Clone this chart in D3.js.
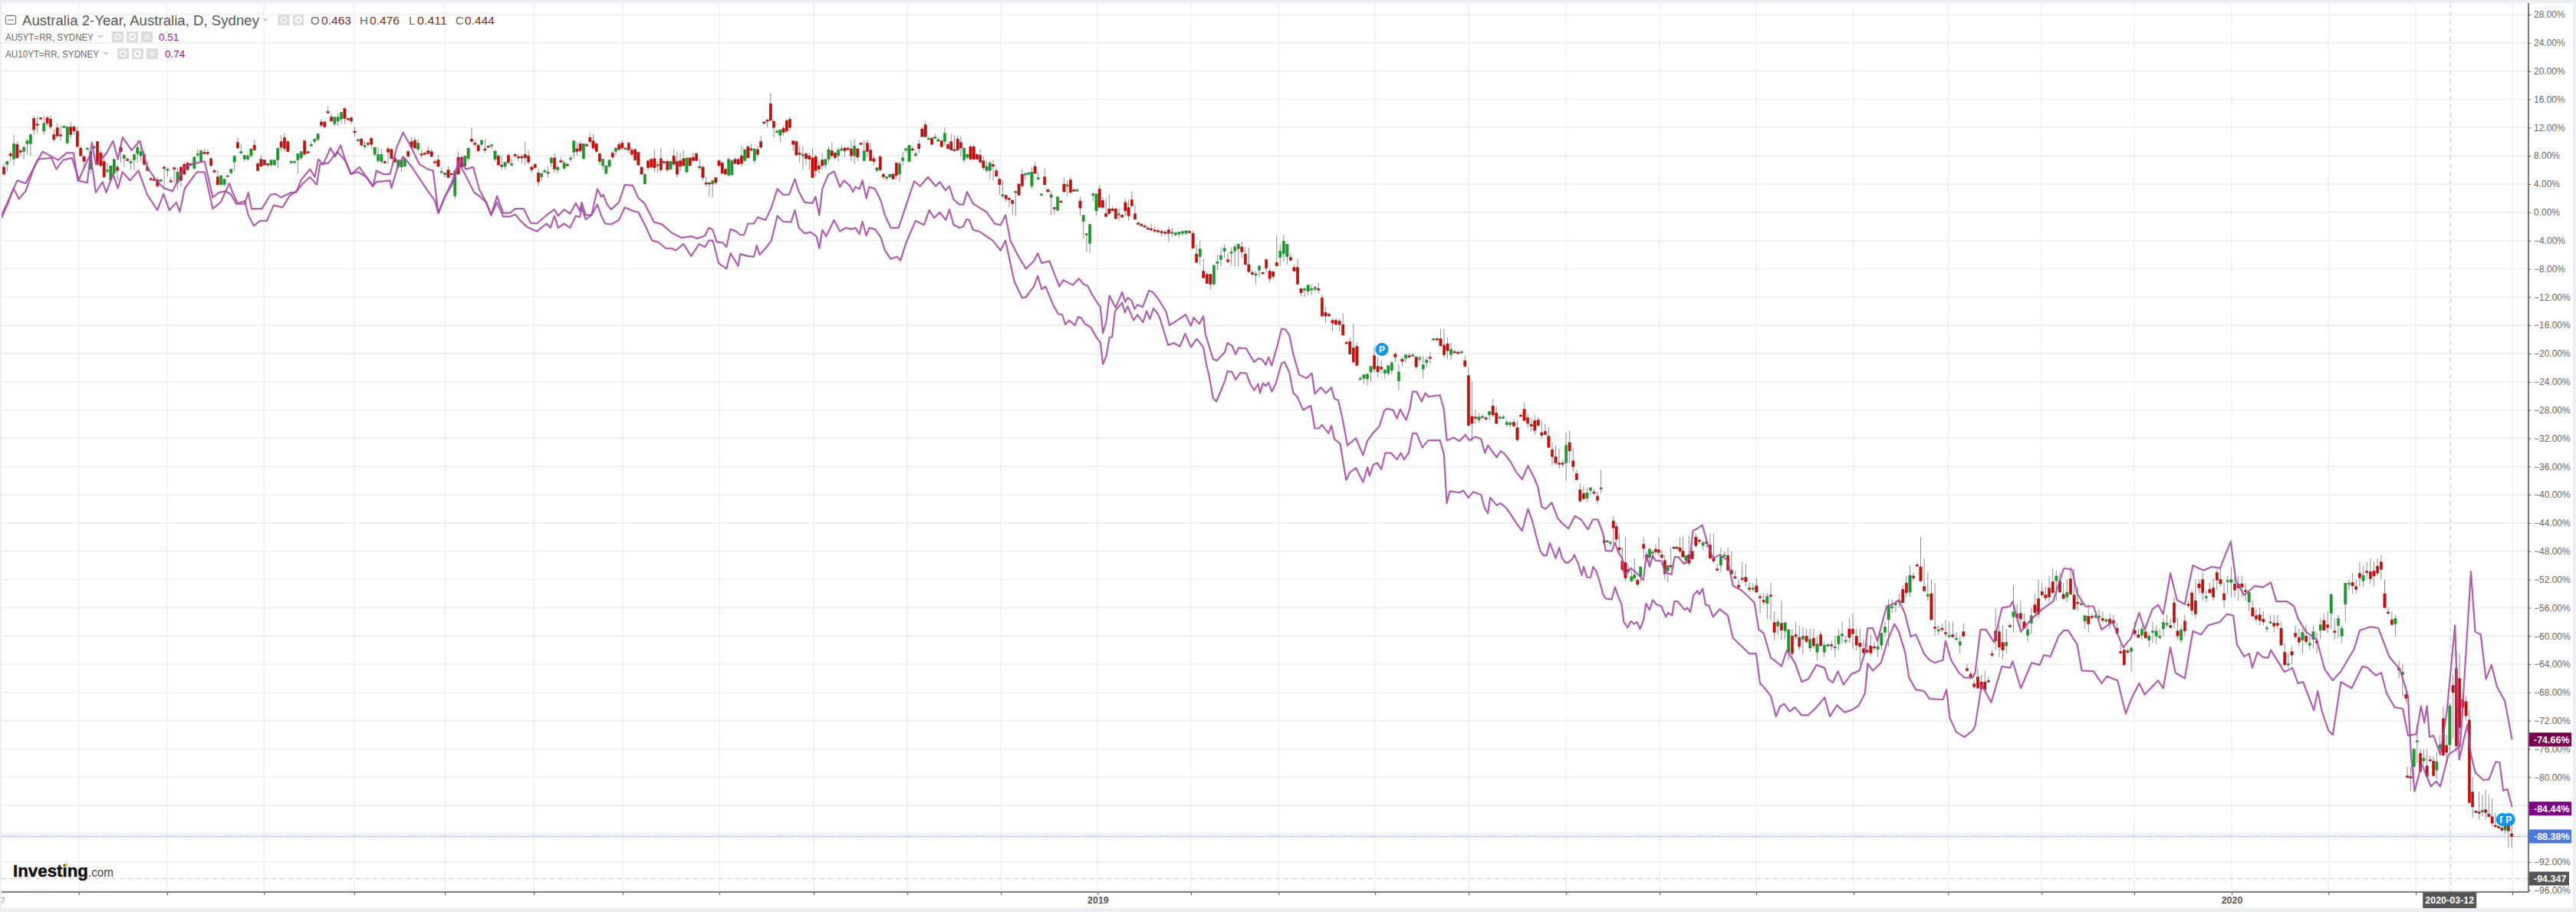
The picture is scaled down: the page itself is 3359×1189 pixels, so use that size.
<!DOCTYPE html>
<html><head><meta charset="utf-8">
<script src="https://cdn.jsdelivr.net/npm/d3@7"></script>
<style>html,body{margin:0;padding:0;background:#eceef2;overflow:hidden}svg{display:block}text{font-family:"Liberation Sans",Arial,sans-serif}</style>
</head><body><div id="chart"></div>
<script>
// Session numbers are daily bars counted from the left of the chart. Candles are [open, high, low, close] in %.
const yTicks=[28,24,20,16,12,8,4,0,-4,-8,-12,-16,-20,-24,-28,-32,-36,-40,-44,-48,-52,-56,-60,-64,-68,-72,-76,-80,-84,-88,-92,-96];
const timeTicks=[23,50.1,79.8,107.5,135.3,162.6,189.9,219.5,248.5,277.2,305.9,335.6,364.2,391.1,420.7,449.4,479.3,508,537.6,567.5,596.5,625.2,653.6,683.5,713.2,740,769.6];
const yearLabels=[[335.6,"2019"],[683.5,"2020"]];
const segmentStarts=[0,164,352,491,518,737.4];
const segmentEnds=[163,351,490,517,737,769.4];
const candles2018a=[
[6.4,6.9,5.2,5.4],[6.8,7.3,5.8,7.2],[8.3,8.6,7.2,8],[7.5,11,6.6,9.7],[9.6,10,7.6,7.7],[8.7,9,8,8.6],[8.6,9.5,7.5,9.2],[9.7,10.4,8.2,10.1],[9.7,11.2,8,11],[13.3,13.7,11,11.7],
[12.5,13.6,11.2,12.4],[13.4,13.5,13.3,13.3],[11.5,13.7,11,12.6],[13.4,13.7,12.2,12.6],[13.2,13.7,11.7,12.1],[11,11.8,10,10.3],[12,12.6,10.5,10.8],[11,12.3,10.1,10.9],[12.1,12.3,11.9,12.2],[9.8,12.2,9.6,12.1],
[12.1,12.8,10.5,11],[12.1,12.3,11,11.5],[11.5,12.1,9.2,9.3],[9.1,9.4,7.9,8],[7.9,8,6.2,7.2],[9.1,9.2,9,9.1],[6.1,8.7,5.5,8.6],[9.1,9.6,9,9.3],[10,10.1,6.5,6.8],[8.4,8.8,6.4,6.6],
[7.2,8,4.9,5],[6,7,5.5,6],[4.6,6.4,4.4,6.6],[5.5,7.6,4.6,7.5],[6.4,6.7,4.5,5.9],[9.2,9.5,7,8.6],[7.6,8.3,6.5,8.1],[7.5,7.8,7.3,7.4],[7,7.5,6,7.2],[7.4,8.3,6,8.2],
[8.3,10.2,7,9.2],[8,9.8,7.2,8.6],[8.2,8.7,6.5,6.8],[6.4,7.2,5.9,5.9],[4.8,5,4.6,4.7],[4.7,5,4.4,4.6],[4.6,5,3.5,3.7],[4.5,4.7,4.3,4.6],[6.4,6.6,3.2,6.3],[6.1,6.3,5,6.1],
[4.5,5,4.3,4.4],[6.3,6.5,4.2,6.2],[4.2,6.3,3.2,5.7],[6.4,6.5,3.6,4.5],[6.8,7.1,5.3,5.4],[7,7.2,6,6],[6.9,7,6.6,6.8],[6.2,8,6,7.8],[8.2,8.9,7.7,8.3],[7.2,8.9,7,8.7],
[8.5,9,8.2,8.3],[8.5,8.9,8,8.4],[7.6,7.7,6.4,6.6],[5.9,6.1,5.7,5.8],[5,6,3.9,3.9],[3.9,5.2,3.8,5.2],[3.9,4.8,3.7,4.7],[5.2,5.3,5,5.2],[5.6,6.1,5.4,6.1],[7.1,8,5.9,8],
[9.9,10.6,9,9.1],[8.5,9.6,8.2,8.6],[7.5,8,7.2,8.1],[7.5,8.4,7.3,8],[8,8.5,7.7,9],[9.5,10.3,9.3,8.8],[6.9,7.2,5.9,5.9],[7.5,8.1,6.9,6.5],[7.4,7.5,6.7,6.7],[6.9,7,6.4,6.8],
[6.7,7.5,6.5,7.4],[6.7,7.4,6.6,7.4],[7.4,9,6.2,9.1],[10,10.9,8.7,9.2],[10.6,11.2,8.6,9],[10,10.2,8.5,8.6],[7.2,7.4,7.1,7.2],[7.2,7.4,7.1,7.2],[7.4,8,5.5,8.3],[7.7,8.6,7.4,8.6],
[10.1,10.3,8.5,8.2],[8.6,8.7,8.3,8.5],[9.6,10,9.3,9.6],[10,10.1,9.7,10.4],[10.3,11.2,10,11.1],[12.8,13.2,12,12.3],[12.8,12.9,11.9,12.1],[14.3,15,13.9,14.1],[13.5,14,12.9,12.9],[12.5,13.4,12.2,13.5],
[12.9,14,12.2,13.5],[13.2,13.8,12.5,14.2],[14.7,14.9,12.5,13.3],[13.3,13.4,13.1,13.2],[13.4,13.6,12.5,12.9],[11.5,12.1,10.7,11.4],[10.3,10.5,10.2,10.3],[10.4,10.6,9.4,9.5],[9.5,10,8.9,9.5],[9.8,10,9.3,9.7],
[10.5,10.6,9,9.6],[8.2,9.2,7.9,9.2],[7.3,9.2,7,8.2],[7.2,9,6.9,8.2],[7.2,7.4,6.9,7.1],[9,9.4,6.8,8.5],[8.9,9.1,7.6,7.6],[7.7,8.2,7,7.1],[6.4,7.5,6.1,7.4],[6.4,7.8,5.8,7.4],
[6.5,7.8,6.4,7.6],[8.6,8.8,7.8,7.9],[10,10.6,9,9.2],[10.2,10.6,8.9,9.1],[8.9,10.3,8.6,9.8],[8.3,8.9,7.7,8.2],[8.4,8.6,8.1,8.3],[8.7,9.3,8.4,8.3],[8.6,9,7.8,7.9],[7.2,7.4,7.1,7.1],
[7.4,8.1,6.4,6.5],[5.8,6.4,5.6,5.8],[5.3,5.4,4.9,5.6],[6,6.5,5,4.9],[5.5,5.6,5.4,5.4],[2.3,5.5,1.9,5.9],[7.8,8.6,5.5,5.4],[7.8,8,7,6.4],[6.5,7.9,6.4,8],[7.6,8.5,7.2,9.1],
[10.4,12,10.2,10],[9.8,10.2,9.3,9.6],[9.5,9.7,8.5,8.7],[9.6,10,9.4,10.2],[9,10.4,8.4,8.9],[9.4,9.5,9.2,9.3],[9.4,9.6,9,9.6],[7.5,7.9,7.2,8.7],[8,8.2,6.6,6.7],[6.7,8,6,6.5],
[6.5,7,6.1,7.1],[8.1,8.3,7,7],[6.7,7.6,6.5,6.9],[8.2,8.4,7.8,8.1],[7.9,8.2,7.2,7.8],[7.9,8.2,6.9,7.8],[8.2,10,6.7,7.7],[8,8.8,6.8,7.1],[6.4,6.7,5.6,6],[6.8,7,6.3,6.3]
];
const candles2018b=[
[5.6,6.2,3.7,4.3],[5,5.7,4.4,5.5],[5.9,6.1,5.8,5.9],[5.6,6.5,4.9,5.7],[7,7.9,6.4,7.7],[7.7,8.3,5.6,6.1],[6,6.5,5.5,6.4],[7.3,7.8,7,7.2],[6.2,7.4,6,7],[6.8,7,6.5,6.7],
[7.5,8,7.1,7.7],[8.5,10.2,7.6,10.1],[9,9.9,8,8.6],[9.7,10.1,8.4,8.7],[7.6,9.8,7.4,9.7],[9.6,9.9,9.4,9.5],[10.6,11.3,9.7,10],[10.1,11.1,8.8,9.1],[9.7,9.9,8.4,8.6],[8.3,8.5,6.7,7.2],
[6.6,7.6,6,7.5],[5.5,6.6,5.4,6.6],[6.5,7.5,6.3,7.4],[8.4,8.7,7.5,7.8],[8.6,9.2,8.1,9.1],[9.6,10,8.7,8.9],[9.8,10.2,8.8,9.1],[9.1,9.2,9,9.1],[9.8,10,8.3,8.8],[8.8,9.2,8,8.2],
[8.9,9,7.2,7.4],[8.5,8.6,6.5,6.7],[6.4,6.4,5.3,5.4],[4,5.4,4,5.4],[7.3,7.4,5.9,6.3],[7.5,7.7,6.1,6.4],[7.6,8.9,5.7,6.3],[6.8,7.2,5.6,6.8],[7.6,9.1,5.6,6],[7.2,7.3,7.1,7.1],
[7.2,7.5,5.7,6],[6.1,7.3,6,7.2],[8,9,6.6,6.8],[7.2,8.6,4.9,5.4],[7.3,8.4,5.8,6.5],[7.6,8.8,6.5,6.6],[5.7,7.7,5.6,7.7],[7.7,7.8,6.5,6.6],[7.8,8.4,7.2,7.3],[8.3,8.5,7.2,7.3],
[6.5,7.6,6,6.5],[6.4,6.6,4.5,4.9],[4.2,5,3.6,4.1],[4.2,4.3,2.2,4.1],[4,4.6,2.2,4.5],[4.9,5,3.9,4.2],[7.3,7.5,6.4,6.6],[7,7.2,5.5,5.5],[6.1,6.3,5.2,5.4],[5.2,7.8,5.2,7.5],
[5.3,7.5,5.2,7.3],[7.5,7.8,6.9,6.9],[7.5,7.7,6.7,6.8],[8,9.4,6.5,6.9],[7.3,8.9,7.2,8.9],[9.3,9.5,7.7,7.7],[9,9.7,8.6,8.9],[7.3,9,6.9,9],[8.9,9.4,7.9,8.2],[10,10.8,9,9.2],
[12.8,12.9,12.6,12.7],[13.1,13.2,12,12.9],[15.4,16.9,13.1,13],[12.9,13,10.6,12],[11.5,11.7,11.2,11.5],[10.9,11.1,10,11.7],[11.9,12.2,10.8,11.3],[13,13.2,11.2,11.5],[13.2,13.6,11.5,12],[10.1,10.2,8.7,9.6],
[10,10.2,8.2,8.1],[8.4,9.4,7,8.2],[8,9.3,6,8.2],[8.3,8.6,6.7,7.6],[8,8.5,6,7.5],[7.7,9,5.3,4.9],[7.9,8.2,5,5.9],[6.6,7.3,5.5,6.1],[7.4,8.4,6,6.6],[6.7,7.2,6.2,7.5],
[7.5,9.3,7,8.9],[8.7,9.9,7.8,8],[8.4,8.5,7.5,7.7],[8,9.2,7.2,8.8],[9,9.6,8.6,9],[9.1,9.3,7.8,8.7],[9.1,9.3,8.8,9],[9,10.2,7.2,8],[8,10.4,6.8,9.4],[9,9.1,7.3,7.8],
[9.8,9.9,9.6,9.7],[7.3,10.2,7.2,8.7],[9.8,10.3,7.8,8.6],[8.8,9.8,7.2,7.3],[7.6,8,6.6,7.2],[5.9,6.2,5.6,6.3],[7.9,8,5.7,6],[5.4,5.6,4.7,5],[4.9,5.2,4.5,5],[5,5.1,4.8,5.4],
[5.4,5.6,4.7,4.7],[7,7.1,4.6,5.2],[5.4,7.2,4.3,6.9],[7.3,8.6,6.7,7.7],[8.9,9.2,8.4,9],[7.2,9.5,7,9.5],[9,9.3,8.6,8.8],[8,8.7,7.9,8.3],[9.7,10.3,8.4,9],[11.8,12.1,10.7,10.7],
[12.4,12.9,10.6,10.7],[10.5,10.8,10.4,10.5],[10.5,10.7,9.5,9.6],[10.6,11.1,10.4,10.7],[10.2,10.6,9.9,10.3],[10.1,10.4,9.2,9.3],[10,12,9.4,11.2],[9.6,9.9,9,9],[10,11.1,8.9,8.8],[8.9,10.9,8.7,8.7],
[10.4,10.9,8.9,8.8],[9.9,10.8,7.9,9.1],[7.4,9.1,7,9.1],[7.8,8.3,7.5,8.2],[9.3,9.6,7.4,7.5],[9.3,9.6,7.4,7.5],[8.2,8.4,7.4,7.5],[8.1,8.9,6.9,7.1],[7.3,7.9,6,6.3],[5.9,7.3,5.6,6.5],
[5.9,7.3,4.6,7],[6.8,7.4,4.5,6.5],[5.9,6.3,5.6,5.1],[4.7,5,2.5,3.9],[2.5,4.5,2,2.5],[2.4,2.5,1.5,1.9],[2,2.2,.7,1.9],[1.7,1.8,-.4,1.2],[3,3.1,-.5,3],[4,4.1,3.7,2.4],
[5.4,6.2,3.9,3.7],[5.4,5.6,4.6,5.5],[5.4,5.7,5.2,5.6],[3.7,6.4,3.3,5.7],[6.5,7.1,5.9,5.5],[4.8,5.7,4.5,4.9],[2.5,2.7,2.4,2.6],[5,6.2,3.9,3.9],[3.2,3.4,3,2.9],[2.1,3,-.4,2.5],
[.7,.9,-.3,.6],[.3,1,.1,2.2],[1.6,1.7,1.4,1.5],[4,4.9,3.9,2.9],[3.8,4.5,2.3,3.9],[4.6,5,3.6,2.8],[3.2,3.4,3,3.1],[3.2,3.4,3,3.2],[1.6,2.2,-.5,.6],[-1.3,-1.2,-3.7,-.4],
[-3.1,-3,-5.6,-3],[-4.4,-2,-5.7,-1.7],[2.6,2.8,1.6,2.6],[.2,2.7,-.5,2.6],[3.3,3.8,1.7,.7],[1.7,2.2,.4,.7],[-.2,2,-.7,-.6],[.5,2.5,-.1,-.2],[.5,.8,.3,.2],[.5,.6,-1,-.9],
[-.4,.6,-1.2,-.2],[-.4,-.3,-.6,-.7],[1.4,1.9,-.5,.2],[.7,1.8,-1.2,-.5],[1.8,2.9,.9,.9],[-.2,1.1,-.8,-1],[-1.5,-1.3,-1.8,-1.6],[-1.7,-1.5,-2,-1.8],[-1.9,-1.7,-2.1,-2],[-2.2,-2,-2.4,-2.3]
];
const candles2019a=[
[-2.3,-1.6,-2.8,-2.4],[-2.5,-2,-2.8,-2.6],[-2.6,-2.2,-3,-2.7],[-2.7,-2.4,-3.4,-2.8],[-2.8,-2.5,-3.2,-3],[-2.5,-2,-4.2,-3],[-2.8,-2.2,-3.5,-2.8],[-3.2,-2.8,-3.4,-2.9],[-3.1,-2.8,-3.5,-2.8],[-3,-2.6,-3.3,-2.7],
[-3,-2.7,-3.2,-2.6],[-2.7,-2.5,-3,-2.9],[-3,-2.6,-5.1,-5.1],[-5.9,-4.6,-6.3,-7.1],[-6.3,-4,-7.5,-5.2],[-8.3,-6.6,-9.1,-9.3],[-8.8,-8.4,-9.8,-10.1],[-8.8,-8.7,-10.9,-10.2],[-10.2,-7.5,-10.4,-7.5],[-7.1,-6,-8.2,-7],
[-6.7,-5,-7.7,-6.1],[-5.5,-4.5,-6.5,-5.1],[-6.7,-5.8,-7.2,-7],[-5.7,-5,-7.5,-5.6],[-5.5,-4.5,-7.7,-4.9],[-5.2,-4.5,-7.7,-4.5],[-4.9,-4.2,-6.5,-5.6],[-5.9,-4.9,-7.5,-7.4],[-7.4,-5,-8.6,-8.4],[-8.5,-8.2,-9,-8.8],
[-8.9,-8.3,-10.2,-8.7],[-8.2,-7.8,-9.2,-7.6],[-8.5,-8.6,-8.7,-8.7],[-6.7,-6.5,-8.5,-7.9],[-8.3,-8,-10,-9.4],[-8.4,-8.3,-9.5,-9.1],[-7.1,-3.3,-7.7,-7.6],[-6.4,-4.5,-7.6,-5.5],[-5.9,-3.2,-7,-4.1],[-6.3,-5,-7.4,-4.5],
[-6.4,-5.8,-6.9,-6.8],[-7.8,-7.4,-8.5,-8.3],[-7.8,-6.6,-10,-10.2],[-10.8,-10.7,-11.9,-11.4],[-11,-10.6,-12,-10.8],[-11.2,-10.9,-11.7,-10.3],[-11,-10.2,-11.7,-10.8],[-10.9,-10.4,-11.2,-10.6],[-10.8,-10,-11.5,-11],[-12.1,-11.7,-14.6,-14.7],
[-14.2,-13.4,-15.7,-14.7],[-14.4,-14.2,-14.6,-14.7],[-15.3,-15,-16.8,-15.7],[-15.3,-15,-15.7,-15.9],[-15.4,-15,-16.8,-15.9],[-15.9,-14.3,-17.2,-17.4],[-18.4,-18.2,-18.6,-18.5],[-18.3,-17.7,-19.2,-20.1],[-19.2,-15.8,-21.5,-21.2],[-19,-18.5,-19.5,-21.7],
[-23.5,-23.2,-23.7,-23.5],[-23.5,-23,-24.3,-23],[-23.6,-23,-24.5,-22.9],[-22.6,-22,-24,-21.8],[-20.3,-19,-22.7,-22.2],[-21.8,-20.5,-23.4,-22.6],[-21.9,-21,-22.8,-22.2],[-22.8,-22.2,-23.6,-22.3],[-22.8,-21.8,-23.2,-21.7],[-22.4,-21,-23,-21.3],
[-20.1,-19.8,-21.2,-20.5],[-23.9,-21.5,-25.2,-22.6],[-20.8,-20.4,-21.8,-21.1],[-20.7,-20,-21.3,-20.2],[-20.3,-20,-20.7,-20.4],[-20.2,-19.9,-20.4,-20.2],[-20.5,-20.3,-22.2,-21.9],[-20.8,-20.3,-21.2,-20.6],[-22.2,-20.3,-23.5,-21.6],[-21.3,-20.5,-22,-20.9],
[-20.5,-19.8,-21.4,-20.6],[-17.9,-17.8,-18,-17.9],[-17.9,-17.7,-18.1,-18],[-17.9,-16.5,-19.1,-18.9],[-18.8,-16.5,-20.6,-20.2],[-18.6,-17.7,-20.8,-19.6],[-20.2,-18.5,-20.9,-19.4],[-19.7,-19.5,-19.9,-19.8],[-19.8,-19.6,-20,-19.9],[-19.8,-19.6,-20,-19.7],
[-21,-20.3,-22,-21.8],[-23.1,-21.9,-24.6,-30.2],[-28.9,-24,-32.5,-29.9],[-29,-28,-29.9,-29.1],[-29.4,-28.4,-29.8,-29],[-29,-28.6,-29.2,-28.9],[-29.1,-28.8,-29.5,-29.2],[-28.7,-28.2,-29.5,-28.2],[-27.4,-26.4,-29,-28.7],[-28.4,-27.5,-30,-29.9],
[-29,-28.8,-29.2,-29],[-29,-28.7,-29.2,-29],[-30.1,-29.3,-30.4,-29.7],[-30.1,-29.5,-30.5,-29.8],[-29.7,-29.3,-30.5,-30.3],[-30.5,-29.5,-32.5,-32.2],[-28.7,-28.5,-29,-28.8],[-27.9,-26.9,-29,-29.5],[-29.1,-28.5,-30.5,-29.9],[-30,-29.2,-31,-30.3],
[-29.5,-28.7,-31.5,-30.9],[-29.4,-29,-30.2,-30.2],[-31.2,-29.5,-32,-31.6],[-31,-30,-31.2,-31.5],[-31.7,-30.4,-32,-33.3],[-33.6,-32.5,-35.8,-34.6],[-34.6,-33,-35.8,-35.5],[-35.5,-33.5,-36.3,-35.6],[-35.5,-35,-36.2,-35.7],[-35.5,-31.2,-38,-33],
[-32.6,-30.9,-35.5,-33.8],[-35.2,-33.4,-36.8,-36],[-37,-36.5,-37.9,-37.9],[-39.3,-38.4,-39.7,-40.9],[-39.8,-38.8,-40.5,-40.6],[-40.5,-39,-41,-39.7],[-39.4,-38.9,-40,-39],[-39.6,-39.2,-40,-39.8],[-40.2,-39.6,-41.3,-40.8],[-39,-36.5,-39.8,-39]
];
const candles2019b=[
[-46.5,-45.8,-47,-46.8],[-46.5,-46.4,-46.7,-46.5],[-46.9,-46.6,-47.3,-46.7],[-43.7,-43,-47,-44.7],[-44.5,-44,-46.8,-46.3],[-47.5,-45.5,-48.4,-47.8],[-49.4,-47.5,-50.8,-50.6],[-49.6,-46,-52.2,-51.8],[-50.6,-50,-51.2,-50.7],[-52.2,-50.8,-52.4,-51.6],
[-51.8,-49,-52,-51.3],[-52.1,-51.8,-53,-52.7],[-51.6,-50.9,-52.4,-50.2],[-47,-46,-49,-47.6],[-48.5,-48,-49.5,-49],[-48.9,-47.5,-50,-47.7],[-48.3,-47.8,-49.2,-48.1],[-47.7,-47,-48.5,-48.1],[-47.8,-46,-48.7,-48.2],[-48.5,-47.8,-49,-48.9],
[-49.3,-48.5,-52,-51.2],[-50.8,-50,-52.4,-50],[-50,-47.5,-50.5,-50.1],[-47.4,-47.2,-47.6,-47.5],[-47.4,-47.2,-47.6,-47.5],[-47.5,-46,-48.3,-48],[-48,-46,-49,-48.8],[-49.3,-48.8,-49.8,-48.6],[-48.5,-45.8,-50,-49.7]
];
const candles2019c=[
[-48,-47.4,-49.2,-49.1],[-46,-45.5,-47.5,-47.2],[-46.4,-46.2,-46.9,-46.6],[-47.2,-46.5,-47.8,-46.8],[-46.7,-46.5,-47.5,-46.9],[-47.1,-45.5,-49.1,-49],[-49,-45.5,-49.7,-49.4],[-50.5,-49.8,-50.8,-50.7],[-50,-47.5,-51,-48.7],[-48.6,-48,-49,-48.5],
[-48.6,-47.5,-50.6,-50.7],[-50.7,-48,-51.3,-51.2],[-51.6,-50.8,-52,-51.7],[-52.8,-52,-53.5,-53.1],[-51.8,-49.5,-52.3,-51.9],[-51.7,-49.8,-53,-52.3],[-53.2,-52.4,-53.8,-53.4],[-53.4,-52.5,-53.7,-53.2],[-52.9,-51.8,-53.8,-53.8],[-54.4,-54,-56.8,-54.5],
[-54.9,-54,-55.6,-55.2],[-55.4,-53.9,-57.6,-54.4],[-54.2,-52.5,-57.8,-54.3],[-58.1,-56.5,-60.6,-59.5],[-58.6,-57.6,-59.8,-58],[-58.2,-55,-60.5,-59.2],[-59.3,-58.6,-60.5,-58.1],[-62.3,-60.4,-63.5,-59.1],[-60,-59,-63,-62.5],[-59.8,-58,-60.5,-60.1],
[-60.2,-58.5,-62,-61.5],[-60.5,-58.8,-62.5,-60],[-60,-59,-61,-60.8],[-61.7,-59,-62.2,-60.5],[-60.3,-59,-61.8,-61.4],[-62.3,-60,-63.5,-61.1],[-59.8,-59.3,-61.5,-61.4],[-62.3,-60.8,-63,-61.3],[-61.3,-61,-61.6,-61.2],[-61.2,-60.7,-62,-61.3],
[-61.6,-60,-63,-61.5],[-61.1,-59,-62,-60],[-60,-58,-61,-59.7],[-60.7,-60,-61.2,-60.6],[-59,-57.5,-61,-60.2],[-59,-56.8,-61.8,-59.7],[-60,-59,-62,-61.3],[-61,-59,-64,-61.5],[-61.8,-60.5,-62.5,-62.4],[-62,-61,-62.5,-62.3],
[-61.4,-59.8,-62.8,-62.4],[-61.5,-60.8,-62,-61.6],[-61.9,-60,-63,-61.5],[-61.3,-59.5,-62,-59.6],[-59.5,-58,-60.1,-58.7],[-57.7,-54.8,-61.5,-55.8],[-55.8,-54.8,-56.7,-55.8],[-55.6,-55,-56.6,-55.4],[-55.2,-54,-56,-55],[-53.4,-52.8,-55.3,-55.3],
[-52.5,-51.5,-54.5,-53.9],[-53.8,-50,-54.5,-51.4],[-51.5,-51,-52.2,-51.8],[-49.9,-49.5,-50.1,-50],[-50.2,-46,-52.4,-52.2],[-53,-49,-53.8,-53.6],[-54.4,-51,-55,-54.1],[-54,-52,-57.5,-57.7],[-58.7,-52.5,-60,-58.9],[-59.2,-58.5,-59.9,-59.1],
[-58.9,-58.2,-59.4,-59],[-59.5,-57.7,-60.2,-59.7],[-59.9,-58,-60.3,-59.9],[-59.8,-58,-60.3,-60.1],[-60.5,-59.5,-60.7,-60.3],[-61.3,-60,-62.5,-60.8],[-59.4,-58.2,-60.3,-60],[-64.6,-64,-65,-64.9],[-65.4,-65,-66.2,-65.8],[-66.8,-66.2,-67.5,-67.2],
[-65.8,-64.5,-67,-67.4],[-66.5,-65.5,-67.7,-67.5],[-66.5,-65,-67.5,-67.6],[-66.3,-65.8,-66.6,-66.5],[-62.5,-62,-63,-62.7],[-59.3,-56,-62,-60.7],[-59.4,-58.5,-63,-61.6],[-60.9,-58.5,-63.3,-62],[-61.4,-59,-62.5,-60.9],[-58.5,-58.2,-58.8,-58.6],
[-57.3,-52.8,-59.5,-56.6],[-56.9,-55.5,-58,-57.4],[-56.8,-55,-59,-57.6],[-58,-56.8,-59,-58.9],[-59.9,-58.5,-60.8,-59.1],[-58.2,-56,-59.7,-57.1],[-55.6,-54,-57,-56.7],[-54.7,-52,-57.5,-56.9],[-53.7,-52.5,-54.5,-54.2],[-54.2,-53,-55,-54.6],
[-53.2,-51.5,-55.2,-54.5],[-52.3,-50.5,-53.2,-53.9],[-52.2,-50.8,-55,-51.5],[-52.2,-51,-53.5,-53.8],[-54.1,-52.5,-54.5,-54.7],[-54.5,-52,-55.2,-53.8],[-51.9,-50.2,-53,-54.1],[-54.2,-50.5,-54.5,-56.2],[-55.2,-53,-56.5,-55.4],[-55.4,-54.8,-55.6,-55.4],
[-57.9,-57.1,-59,-57.1],[-57.2,-55.5,-59.5,-58.3],[-57.2,-56.8,-57.6,-57.3],[-57.3,-56.5,-57.6,-57.1],[-57.3,-56.2,-58,-57.2],[-57.5,-56.5,-58.2,-57.8],[-57.9,-57.5,-58.2,-57.7],[-57.6,-56.8,-59,-58.2],[-57.8,-57,-58.5,-58.2],[-58.9,-58.2,-59.4,-59.6],
[-62.2,-61,-62.5,-62.4],[-62,-61.5,-63.5,-64.1],[-62.1,-61.8,-62.5,-62.2],[-62.2,-61.5,-65,-61.7],[-59.2,-58,-60,-59.7],[-59.8,-59,-60.3,-60.2],[-59.9,-58.6,-60.5,-59],[-59.4,-58.5,-60,-60.3],[-60.6,-59.5,-61.5,-60],[-59.3,-58,-61,-59.3],
[-60,-58.5,-61.2,-59.3],[-60.2,-59,-60.5,-60],[-59,-57.5,-60,-58.1],[-58.2,-57,-58.8,-58.2],[-58.5,-57.6,-59,-58.8],[-55.3,-54.5,-59,-58.1],[-59.3,-57.5,-60.5,-60],[-60.6,-58.5,-61,-59.1],[-57.9,-57,-60,-59.3],[-55.5,-55,-56,-55.6],
[-53.9,-53.5,-57,-56.4],[-55,-52,-57.5,-56.9],[-52.6,-52,-54,-53.2],[-52,-51,-55,-53.9],[-54.5,-53.5,-55.2,-54.4],[-53.4,-52.5,-54,-53.9],[-53.2,-51.8,-55,-54.5],[-51,-50.5,-53.5,-52.1],[-52,-50.2,-53,-52.6],[-54,-52.5,-56,-54.9],
[-52.2,-51.5,-54,-52.1],[-52.4,-50.2,-54.5,-52],[-52.6,-51.5,-54.5,-53.5],[-52.6,-51.5,-55,-53.2],[-52.6,-51.5,-54.5,-53.1],[-53.5,-52.5,-55,-53.6],[-55.2,-54.5,-56.5,-53.8],[-56,-55,-57.2,-57.2],[-57.1,-56.2,-58,-57.6],[-57,-56,-58.5,-57.8],
[-57.6,-56.5,-58.5,-58],[-59,-58.5,-59.5,-58.8],[-58,-57,-58.2,-58],[-58.2,-57,-59.5,-58.6],[-58.2,-57,-59,-58.5],[-58.9,-58,-59.5,-61.3],[-62.3,-61,-64.2,-64.1],[-64,-62.5,-64.5,-63.9],[-62.2,-61.5,-64,-62.7],[-59.6,-58.5,-60.5,-60.1],
[-60.2,-59,-61.5,-60.9],[-60.6,-59,-62.5,-59.5],[-60,-58.5,-61.2,-60.8],[-61.3,-60,-62,-61],[-60.5,-58.5,-61.8,-59.4],[-60.7,-59.5,-62.5,-61],[-59.2,-57.5,-60.5,-58.4],[-57.8,-56.8,-59,-59.2],[-58.4,-56.5,-59.6,-58.8],[-56.8,-55,-59,-54.1],
[-59.3,-57.5,-60.5,-59.4],[-58.5,-57,-60.2,-57.5],[-60,-58.5,-61,-58.9],[-55.5,-53.5,-58,-52.5],[-52.6,-52,-53.5,-52.5],[-52.4,-51,-54,-52.9],[-53,-52,-54,-53.4],[-51.1,-49.5,-53,-51.8],[-52.2,-50,-53,-51.4],[-50.8,-49.5,-52,-50.9],[-50.9,-49,-52.7,-51.9],
[-50.8,-49.5,-53,-51.5],[-50.1,-49,-51.5,-51.1],[-49.5,-48.5,-52,-50.6],[-54,-52,-55.6,-56],[-56.6,-56,-57,-56.7],[-57.7,-56.5,-58.5,-58.4],[-58.3,-57,-60,-57.5],[-64.6,-63.5,-66,-64.8],[-65.5,-64,-68.5,-65.1],[-68.3,-67,-69.5,-68.8]
];
const candles2020=[
[-79.8,-78.5,-80.2,-79.9],[-79.9,-78.5,-82,-80],[-78.5,-76,-80.5,-76],[-74.9,-72.5,-78,-74.8],[-76.6,-76,-79,-79.2],[-77.7,-76,-78.2,-77.3],[-78.4,-76,-79.6,-79.9],[-77.5,-77,-77.8,-77.6],[-77.7,-77,-79.8,-79.8],[-79,-76.5,-80.2,-77.8],
[-75.9,-74,-76.6,-75.4],[-71.7,-70,-77,-76.9],[-75.5,-74,-78,-76.5],[-75.4,-69.5,-76.5,-69.9],[-67,-65.5,-74.5,-68],[-64.6,-62,-76.5,-75.6],[-66,-62.5,-74,-73],[-69,-68,-71.5,-70.1],[-69.3,-68.5,-72,-71.3],[-71.9,-70.5,-74,-83.6],
[-82.1,-80,-85.8,-84.2],[-84.8,-84.6,-85,-84.9],[-84.9,-82,-86,-85.1],[-84.8,-82.5,-85.5,-84.7],[-84.6,-81.8,-86,-85],[-85.2,-82.5,-85.6,-85.6],[-85.6,-83,-87,-86.5],[-86.8,-85,-87.2,-87],[-87,-86.8,-87.2,-87.1],[-87.2,-85.5,-87.8,-87.5],
[-87.5,-85.5,-88,-86.3],[-86.8,-86,-90,-87.6],[-88,-86.5,-90,-88.4]
];
const candleSegments=[candles2018a,candles2018b,candles2019a,candles2019b,candles2019c,candles2020];
const au5Points=[[-.7,-.4],[1.4,1.7],[4.1,4.5],[6.7,4.1],[9.3,6.4],[11.9,8.6],[14.6,7.9],[16.7,7.4],[19.3,8.4],[21.4,8.4],[22.7,4.5],[25.6,4.2],[27,9.9],[28.2,6.8],[31.4,8.3],[33.5,10.1],[35,7.5],[36.4,10.6],[39.2,8.8],[41.7,10.1],[44,6.4],[46.6,4.6],[49.2,3.4],[51.8,3],[53.9,5],[55.5,6.4],[57.6,6.8],[60.3,7.1],[61.6,7.2],[62.9,4.6],[64.1,2.1],[66,2.8],[68.1,3],[69.2,4.1],[70.2,2.8],[71.8,1.2],[73.9,1.2],[75,2.8],[76,.5],[79.2,.5],[81.8,2.5],[83.4,2.6],[85,2.1],[88.1,2.8],[89.7,2.8],[91.2,4.6],[93.9,6.1],[95.4,5],[96.5,7.5],[98,6.8],[100.2,9.1],[101.7,7.9],[103.3,9.5],[104.9,7.2],[106.5,5.4],[109.1,6.4],[111.2,5],[113.3,3.7],[114.3,5.9],[116.4,5.4],[118.5,5.4],[120.6,9.3],[122.5,11.3],[124.9,9.3],[127.5,6.8],[130.1,6.1],[131.7,5.9],[133.3,-.1],[135.4,2.3],[137.5,4.3],[139.9,7.7],[141.7,6.1],[144,6.4],[145.9,3.2],[148,1.4],[149.5,-.4],[151.3,2.3],[153.2,-.1],[155.3,-.1],[156.9,.5],[159.5,.5],[161.6,-1.5],
[163.5,-1.6],[166.5,-.4],[168.9,.4],[170.1,-.5],[171.9,.4],[173.7,-.2],[175.5,1.3],[176.7,.2],[177.3,1.4],[178.5,-.4],[180.3,-.4],[182.1,3.3],[183.3,2.2],[183.9,2.5],[185.1,1.1],[186.3,.4],[188.7,1.4],[190.5,3.9],[192.9,3.8],[194.7,2],[196.5,1.3],[199.5,-1.4],[201.9,-1.7],[204.9,-2.9],[207.9,-3.6],[210.9,-3.4],[212.7,-3.7],[215.1,-3.3],[216.3,-2.2],[217.5,-2.5],[218.7,-4.2],[220.5,-4.3],[221.7,-4.9],[222.9,-2.4],[224.7,-2.7],[225.9,-3.2],[227.1,-3.2],[228.3,-1.6],[230.1,-1.6],[231.3,-.7],[233.7,-1.1],[235.5,.7],[237.3,3.3],[239.1,2.5],[240.9,2.5],[242.7,4.7],[243.9,2.9],[245.7,1.4],[248.1,1.3],[249,2.2],[250.2,-.4],[251.1,3.3],[252.9,5.3],[254.7,5.8],[256.5,3.6],[257.7,4.5],[259.5,3.8],[260.5,2.9],[261.3,3.6],[262.5,3.3],[263.4,4.5],[264.6,2],[265.5,3.6],[267.3,3.3],[269.1,1.6],[270.3,-.4],[272.1,-2.2],[274.5,-2.2],[276.9,1.1],[279.3,4.4],[281.1,3.7],[283.5,5],[285.9,3.7],[287.1,4.3],[288.9,3.1],[290.1,3.7],[291.4,1.8],[293.2,1.1],[294.4,1.1],[295.5,2.9],[297.4,1.2],[299.2,.7],[301.6,0],[304,-1.6],[305.8,-1.8],[307.3,-.4],[308.8,-4],[311.2,-6.2],[313.6,-8],[316,-6.9],[317.2,-5.8],[318.4,-7.2],[320.8,-6.9],[323.8,-10.5],[325,-9.6],[328,-10.3],[329.8,-9.4],[331.3,-10.2],[332.5,-10.4],[333.7,-11.5],[335.3,-12.7],[336.4,-13.4],[337.2,-17.1],[338.2,-15.5],[339.2,-11.8],[341.1,-13.5],[343.1,-11.3],[344,-12.7],[344.8,-12.1],[346,-12.5],[346.9,-13.7],[347.8,-13.1],[349.4,-13.4],[351.3,-11.1],[352.5,-11.3],
[354.2,-12.3],[356.6,-14.1],[357.6,-16],[359.6,-15.4],[362.6,-14.5],[364.2,-16.1],[365,-14.9],[366.8,-15.8],[368,-14.7],[368.6,-17.2],[371,-20.8],[372.2,-21],[374.6,-19.8],[375.4,-18.5],[376.8,-18.9],[377.9,-20.1],[378.8,-19.2],[381.2,-19.3],[382.4,-20.3],[383.6,-21.2],[384.8,-20.7],[386,-20.8],[387.2,-21.6],[388,-20.5],[389,-21.7],[390.8,-18.7],[392,-16.5],[393.2,-16.6],[394.4,-17.4],[395.6,-20.1],[397.4,-23],[399.6,-23.5],[401.3,-22.8],[402.2,-25.7],[404,-24.8],[405.6,-25.6],[407.3,-24.8],[408.2,-26.4],[409.4,-26.6],[410.6,-29],[412.2,-33],[414.8,-32],[417,-34.4],[418.4,-32.3],[420.2,-31.2],[422,-30.3],[423.5,-28.1],[424.4,-27.8],[426.2,-28],[427.4,-29.2],[428.4,-27.9],[430.2,-29.4],[431.3,-27.9],[432.2,-25.4],[433.4,-25.4],[435,-26.8],[436.1,-25.6],[437,-26.1],[440.6,-25.9],[441.8,-27.9],[442.7,-32.3],[444.8,-31.9],[446.6,-32.4],[448.4,-31.5],[449.6,-32.3],[451.4,-31.8],[453.2,-32.1],[454.4,-34.1],[455.3,-33],[458,-34.7],[459.2,-33.8],[460.4,-34.2],[462.2,-35.3],[464,-36.8],[465.8,-37.8],[467.6,-35.9],[469.4,-37.5],[470.6,-38.8],[471.8,-41.7],[473,-42],[474.9,-41.1],[476.7,-43.3],[477.8,-43.9],[480,-44.8],[482,-43],[483.9,-43.5],[486,-44.9],[487.5,-43.5],[489,-43.5],[490.6,-45.4],[491.4,-47.9],[493.3,-48],[494.3,-46.8],[495.3,-48.1],[496.5,-49],[497.1,-51.2],[498.1,-51],[499.2,-50.4],[500.2,-50.8],[501.2,-51.2],[502,-51.6],[503,-52.1],[503.9,-48.5],[504.9,-50.2],[505.9,-48.6],[506.7,-49.3],[508.6,-49.4],[509.7,-51],[511.6,-51.3],[512.6,-48.8],[513.7,-48.8],[515.5,-49.8],[517.3,-49],
[518.2,-45.1],[519.5,-44.8],[521.1,-44.3],[522.8,-47.1],[524.4,-49],[526.4,-48.5],[528.9,-49.3],[530.5,-52.9],[533,-53.5],[534.7,-54.2],[537.1,-55.3],[538.4,-59.1],[539.9,-59.6],[542.1,-63.1],[543.7,-63.6],[545.4,-64.3],[547,-62],[549.5,-63.8],[551.6,-66.5],[553.6,-66.1],[556.1,-64.1],[558.6,-64.5],[559.7,-66.1],[561.1,-66.6],[562.7,-65],[564.4,-66.9],[566.8,-65.4],[569.3,-64.9],[571,-62.3],[571.8,-58.9],[573.4,-58.9],[574.8,-60.7],[577.6,-55.8],[580,-55.4],[581.4,-54.9],[583.3,-56.9],[585,-60.1],[586.6,-59.8],[589.1,-62.5],[590.8,-63.4],[592.4,-63.8],[594.9,-63.4],[595.7,-60.7],[597.4,-63.4],[599.8,-65.2],[601.5,-65.9],[604,-65.9],[604.8,-65.2],[606.4,-59.1],[608.1,-59.1],[610.6,-60.9],[613,-56],[615.5,-55.8],[616.3,-55.1],[618.8,-59.4],[622.1,-57.6],[625.4,-56.2],[628.7,-55.1],[632,-50.4],[634.5,-50.6],[636.1,-54],[638.6,-55.8],[641.1,-55.8],[643.6,-59.1],[646.9,-58],[650.2,-61.6],[652.6,-60.3],[655.1,-56.7],[656.8,-59.1],[659.2,-56.2],[660.9,-55.6],[662.5,-56.9],[664.7,-51.1],[666.7,-54.9],[669.1,-55.5],[671.6,-50],[673.3,-50.4],[674.9,-50.7],[677.4,-50.2],[679.9,-50.4],[683.2,-46.6],[684.8,-52.2],[687.3,-54.2],[688.9,-53.6],[690.6,-52.9],[693.1,-53.1],[695.5,-52.4],[697.2,-55.1],[700.5,-55.1],[702.6,-55.8],[703.8,-57.5],[706.3,-59.4],[709.6,-60.5],[712,-64.7],[714.5,-66.3],[717,-65],[721.1,-61.8],[722.8,-59.2],[726.1,-58.7],[728.5,-58.9],[731.9,-63],[735.1,-64.7],[737.6,-68.5],[738.5,-76.8],[739.6,-82],[741.8,-78.1],[744.6,-81.3],[746.2,-80.6],[747.5,-81.3],[750,-76.8],[753.6,-75.6],[756.9,-50.9],[758.2,-59.4],[759.9,-59.8],[761.5,-66.1],[763.2,-64.1],[764.9,-67.2],[767.3,-69.2],[769.5,-74.66]];
const au10Points=[[-.7,-.8],[1.4,1.4],[3,3.4],[4.6,1.9],[6.7,3],[9.3,6.4],[10.4,7.5],[14.6,7.7],[16.1,6.1],[18.2,7.4],[20.9,7.7],[23,4.6],[26.6,8.3],[28.2,2.8],[30.3,4.3],[31.4,2.8],[33.5,5.4],[35,3.4],[36.4,5.7],[38.7,4.5],[41.3,5.9],[44,2.5],[47.1,.3],[49,2.6],[50.8,.3],[52.9,1.4],[54,.1],[55.5,3.4],[59.2,5.7],[61.6,5.7],[64.1,.5],[66.5,1.4],[68.1,3],[69.7,2.5],[71.3,1.2],[73.9,1.6],[75,-.4],[76.7,-1.9],[78.6,-1.2],[80.7,-1.2],[82.8,1],[85.5,.7],[87.6,2.3],[90.2,3.2],[91.8,4.1],[93.9,5],[96,3.9],[97,6.8],[99.6,7],[102.3,8.6],[104.9,7.2],[106.5,5.4],[108.6,5.7],[111.2,5],[113.1,3.7],[114.3,4.3],[118.5,4.5],[118.9,3.4],[120.6,6.1],[122.5,7.9],[124.9,6.6],[127.5,4.8],[130.1,3],[132.2,1.7],[133.3,-.1],[135.4,2.3],[137.5,3.9],[139.8,6.8],[141.7,5.2],[144.3,2.8],[145.9,2.3],[148,1.4],[149.5,-.4],[151.3,1.4],[153.2,-.6],[155.3,-.6],[156.9,-.3],[158.5,-1.2],[160.6,-2.1],
[163.5,-2.7],[166.5,-1.6],[167.7,-2.2],[168.9,-.5],[170.1,-2.2],[171.9,-1.6],[173.7,-2.2],[175.5,-.5],[176.7,-.7],[177.3,.7],[178.5,-1],[180.3,-.4],[182.1,1.1],[183.3,-.5],[184.5,-1.6],[186.3,-1.7],[188.7,-1.1],[190.5,.7],[192.9,.2],[194.7,0],[197.1,-2.2],[198.9,-4],[200.7,-4.2],[203.1,-5.1],[204.9,-5.1],[206.1,-5.4],[208.5,-4.5],[210.9,-6.2],[213.3,-4.5],[215.1,-4.9],[216.3,-4],[217.5,-4],[219.3,-7.2],[221.7,-8],[222.9,-5.8],[225.3,-7.6],[225.9,-5.9],[228.3,-6.2],[230.1,-6.3],[231,-4.7],[231.9,-6],[233.7,-5.1],[235.5,-4],[237.3,-.5],[239.1,-1.3],[241.5,-1.4],[242.7,.3],[243.9,-2.2],[245.7,-3],[247.5,-2.8],[249.3,-3.4],[250.2,-5.1],[251.1,-2.5],[252.3,-3.4],[254.7,-1.1],[256.5,-2.7],[258.3,-2.2],[260.1,-2.4],[261.3,-2.2],[262.5,-3.1],[263.4,-1.3],[264.6,-3.3],[265.5,-2.2],[267.3,-2.4],[269.1,-3.6],[270.3,-5.4],[272.1,-6.6],[274,-6.3],[275.1,-6.8],[276.9,-4.2],[279.7,-1.2],[282.3,-1.8],[283.9,.3],[285.4,-.8],[287.1,0],[289,-1.1],[290.1,.4],[291.4,-1.8],[293.2,-2.2],[294.4,-2],[295.3,-1],[296.2,-1.1],[297.4,-2.5],[299.2,-2.7],[303.4,-4],[305.8,-5.4],[307.3,-4],[310,-9.8],[312.4,-12.1],[313.6,-12],[316,-10.5],[317.2,-9],[318.4,-10.9],[319.6,-10.5],[322,-13.2],[323.5,-14.4],[324.7,-14.5],[325.7,-15.9],[326.8,-15.3],[328.6,-16],[329.6,-14.8],[330.6,-15],[331.7,-15.8],[333.5,-16.3],[335.3,-17.8],[336.4,-18.4],[337.2,-21.5],[338.2,-20.4],[339.2,-17.7],[340,-17.7],[340.9,-14],[343.1,-12.8],[343.9,-14.2],[344.8,-13.3],[346.6,-15.3],[347.8,-14.5],[349.5,-15.6],[350.6,-14],[351.6,-15.1],[352.7,-13.6],[354.1,-14.4],
[354.8,-15.2],[357.2,-18.8],[359,-18.5],[360.8,-19],[362.4,-17.2],[364.2,-19.1],[366,-17.9],[368,-19.1],[369,-21.7],[369.8,-23.2],[371,-26.3],[372,-26.8],[374.6,-23.9],[375.4,-22.5],[376.8,-22.6],[377.9,-23.7],[379.4,-22.7],[381.2,-22.8],[382.4,-24.3],[383.6,-25.2],[384.8,-24.3],[385.4,-25.6],[386.3,-24.2],[387.2,-24.6],[388,-24.1],[389,-25.4],[390.2,-24.3],[392,-21.4],[392.9,-21.2],[394.4,-22.7],[395.6,-25.6],[396.8,-26.1],[398.6,-28],[401,-27.4],[402.2,-30.6],[403.4,-30.6],[404.4,-30.1],[406.4,-31.3],[407.3,-30.2],[408.2,-32.1],[410,-32.8],[411.8,-37.9],[413,-36.8],[414.8,-36.2],[417,-38.2],[418.4,-36.1],[419,-37.3],[420.2,-35.7],[421.4,-35.5],[422.6,-36.4],[423.8,-34.1],[425.6,-34.1],[427.4,-35],[428.6,-34.1],[429.6,-35],[431,-34.1],[432.2,-31.3],[433.4,-31.3],[435.2,-33.3],[437,-32.3],[440.6,-32.3],[441.8,-34.2],[442.7,-41.2],[443.6,-39.5],[446.6,-39.7],[447.8,-39.4],[449.3,-40.4],[450.8,-39.6],[453.2,-40],[454.4,-42],[455.3,-42.6],[456,-40.4],[458,-41.5],[459.2,-41.2],[461,-41.9],[462.2,-42.7],[464,-44],[465.8,-45.1],[467.6,-42],[468.8,-43.5],[470.2,-46],[471.4,-48],[472.4,-48.6],[473.3,-48.6],[474.3,-46.8],[476.1,-49],[477.2,-47.5],[478,-48.9],[479,-49.6],[480,-49.6],[481.2,-49.1],[481.8,-48.5],[482.9,-49.6],[484.1,-51.4],[484.7,-50.2],[485.7,-51.7],[486.8,-51.7],[487.6,-50.2],[488.6,-50.9],[489.6,-52.3],[490.7,-54.2],[491.5,-54.7],[493.3,-54.8],[494.3,-53.1],[495.3,-54.4],[496.3,-55.5],[497,-58],[498.2,-58.8],[499.2,-57.9],[500.2,-58.3],[501,-58],[502,-59],[503.1,-57.7],[503.8,-55.4],[504.9,-56.3],[505.9,-54.9],[506.9,-55.5],[508.5,-55.8],[509.9,-57.3],[510.6,-56.7],[511.8,-57.1],[512.5,-55.1],[513.5,-55.1],[515.7,-56.3],[516.5,-56],[517.4,-56.6],[518.4,-54.2],[519.6,-53.6],[520.2,-54.1],[521.2,-53.3],[522.1,-55.6],[523.1,-55.7],
[524.4,-57.3],[526.4,-56.2],[528.9,-57.1],[530.5,-60.3],[533,-61.4],[535.5,-62.5],[537.6,-62.5],[538.8,-66.7],[539.9,-67.2],[542.1,-68.5],[543.7,-71.4],[544.9,-70],[546.2,-69.6],[547.9,-70.7],[549.5,-70.1],[551.5,-71.2],[553.6,-71.2],[556.1,-70.1],[558.6,-68.7],[560.2,-71.4],[562.4,-69.8],[564.7,-70.8],[566.8,-70.5],[569,-69.9],[571,-68.1],[571.8,-63.9],[573.4,-64.9],[575.9,-63.8],[577.9,-60.7],[580,-58.3],[581.4,-59.4],[583.3,-62.3],[584.5,-65.9],[586.6,-67.6],[589.1,-67.8],[590.8,-68.9],[594.9,-69],[596,-67.6],[597,-71.6],[599,-73.6],[601.5,-74.3],[604,-73.4],[604.8,-72.7],[606.8,-66.9],[609.7,-69.4],[613,-64.3],[615.5,-64.5],[616.3,-63.6],[618.8,-67.4],[622.1,-63.8],[624.6,-64.1],[625.9,-62.7],[627.9,-62.9],[630.4,-60],[632,-59.2],[633.3,-59.2],[636.1,-61.2],[637.5,-64.9],[641.1,-65],[643.6,-66.7],[645.2,-65.7],[648.5,-66.3],[651,-71],[652.6,-69],[655.1,-66.7],[656.8,-68.3],[660.9,-66.3],[662.5,-67.4],[664.7,-61.6],[666.2,-65.2],[669.1,-66],[671.6,-59.3],[674.1,-59.8],[676.2,-58.5],[679.9,-58],[682,-56.9],[684,-57.1],[685.1,-61.2],[687.3,-62.9],[688.9,-62.5],[689.8,-64.5],[691.4,-62.3],[693.1,-63],[694.7,-63.1],[695.5,-62],[699.7,-65.1],[702.1,-64.5],[703.8,-66.7],[705.4,-66.5],[708.7,-70.5],[709.9,-67.8],[711.2,-70.7],[713.2,-73.4],[714.5,-74],[717,-66.5],[720.3,-67.4],[723.6,-64.3],[725.2,-64.5],[727.7,-65.6],[729.4,-65.2],[731,-68.1],[733.5,-70.1],[736,-70.3],[737.6,-74.1],[740.1,-73.9],[741.6,-69.9],[742.6,-72.3],[743.4,-69.9],[744.2,-74.3],[745.4,-74.1],[747.5,-76.8],[749.5,-70.7],[752,-58.5],[753.3,-77.5],[755.8,-72.5],[756.9,-76.8],[758.2,-79.3],[760.7,-80.4],[762.4,-80.3],[764.5,-77.8],[765.7,-77.9],[766.8,-81.9],[768.1,-81.7],[769.5,-84.2]];
const levelTags=[[-74.66,"-74.66%","#7b0050"],[-84.44,"-84.44%","#80008a"],[-88.38,"-88.38%","#4a78e0"],[-94.347,"-94.347","#555555"]];
const eventPins=[[422.8,-19.4],[766.6,-86],[768.5,-86]];
const crosshairSession=750.6, crosshairDate="2020-03-12", lastValue=-88.38, lowLevel=-94.347;
const titleText="Australia 2-Year, Australia, D, Sydney";
const ohlcLabels=[["O","0.463"],["H","0.476"],["L","0.411"],["C","0.444"]];

const W=3359,H=1189,plot={l:2,r:3297,t:4,b:1163};
const x=d3.scaleLinear().domain([0,769.6]).range([5,3276]);
const y=d3.scaleLinear().domain([28,-96]).range([19,1160.6]);
const svg=d3.select("#chart").append("svg").attr("width",W).attr("height",H);
svg.append("rect").attr("width",W).attr("height",H).attr("fill","#eceef2");
svg.append("rect").attr("x",plot.l).attr("y",plot.t).attr("width",3355-plot.l).attr("height",1184-plot.t).attr("fill","#fff");
const defs=svg.append("defs");
defs.append("clipPath").attr("id","cp").append("rect").attr("x",plot.l).attr("y",plot.t).attr("width",plot.r-plot.l).attr("height",plot.b-plot.t);
defs.append("clipPath").attr("id","cpAxis").append("rect").attr("x",plot.r-1).attr("y",plot.t).attr("width",60).attr("height",plot.b-plot.t+2);
const grid=svg.append("g").attr("clip-path","url(#cp)");
grid.selectAll("line.h").data(yTicks).join("line").attr("class","h").attr("x1",plot.l).attr("x2",plot.r).attr("y1",d=>y(d)).attr("y2",d=>y(d)).attr("stroke","#eeeeee").attr("stroke-width",1.6);
grid.selectAll("line.v").data(timeTicks).join("line").attr("class","v").attr("x1",d=>x(d)).attr("x2",d=>x(d)).attr("y1",plot.t).attr("y2",plot.b).attr("stroke","#eeeeee").attr("stroke-width",1.4);
// crosshair and level lines
grid.append("line").attr("x1",x(crosshairSession)).attr("x2",x(crosshairSession)).attr("y1",plot.t).attr("y2",plot.b).attr("stroke","#c4c4c4").attr("stroke-width",1).attr("stroke-dasharray","6 5");
grid.append("line").attr("x1",plot.l).attr("x2",plot.r).attr("y1",y(lowLevel)).attr("y2",y(lowLevel)).attr("stroke","#cfcfcf").attr("stroke-width",1.2).attr("stroke-dasharray","6 5");
grid.append("line").attr("x1",plot.l).attr("x2",plot.r).attr("y1",y(lastValue)).attr("y2",y(lastValue)).attr("stroke","#8fa8ee").attr("stroke-width",1.4).attr("stroke-dasharray","1.5 1");
// candles: rows of each segment are spread evenly across that segment's sessions
const bars=candleSegments.flatMap((seg,k)=>seg.map((c,j)=>({s:segmentStarts[k]+j*(segmentEnds[k]-segmentStarts[k])/(seg.length-1),o:c[0],h:c[1],l:c[2],c:c[3]})));
const cg=svg.append("g").attr("clip-path","url(#cp)");
cg.selectAll("line.w").data(bars).join("line").attr("class","w").attr("x1",d=>x(d.s)).attr("x2",d=>x(d.s)).attr("y1",d=>y(d.h)).attr("y2",d=>y(d.l)).attr("stroke","#8c8c8c").attr("stroke-width",1);
cg.selectAll("rect").data(bars).join("rect").attr("x",d=>x(d.s)-1.7).attr("width",3.4)
  .attr("y",d=>y(Math.max(d.o,d.c))).attr("height",d=>Math.max(2,Math.abs(y(d.o)-y(d.c))))
  .attr("fill",d=>d.c>=d.o?"#0e9f22":"#d00808").attr("stroke",d=>d.c>=d.o?"#3f7d4a":"#7d2a22").attr("stroke-width",.4);
// yield lines
const line=d3.line().x(d=>x(d[0])).y(d=>y(d[1]));
[au5Points,au10Points].forEach(p=>{cg.append("path").attr("d",line(p)).attr("fill","none").attr("stroke","#a448a2").attr("stroke-opacity",.88).attr("stroke-width",2.2).attr("stroke-linejoin","round");});
// axes
const yAxis=d3.axisRight(y).tickValues(yTicks).tickSize(3).tickPadding(5).tickFormat(d=>d3.format(".2f")(d)+"%");
const yg=svg.append("g").attr("clip-path","url(#cpAxis)").append("g").attr("transform",`translate(${plot.r},0)`).call(yAxis);
yg.select(".domain").attr("stroke","#555").attr("stroke-width",1.6).attr("d",`M0,${plot.t}V${plot.b}`);
yg.selectAll(".tick line").attr("stroke","#555");
yg.selectAll(".tick text").attr("fill","#666").attr("font-size",12).attr("font-family","Liberation Sans").attr("x",7);
const labelOf=new Map(yearLabels);
const xAxis=d3.axisBottom(x).tickValues(timeTicks).tickSize(4).tickPadding(3).tickFormat(d=>labelOf.get(d)||"");
const xg=svg.append("g").attr("transform",`translate(0,${plot.b})`).call(xAxis);
xg.select(".domain").attr("stroke","#555").attr("stroke-width",1.6).attr("d",`M${plot.l},0H${plot.r}`);
xg.selectAll(".tick line").attr("stroke","#555");
xg.selectAll(".tick text").attr("fill","#555").attr("font-size",12.5).attr("font-weight","bold").attr("font-family","Liberation Sans").attr("y",6);
// tags
const tags=svg.append("g");
levelTags.forEach(([v,t,c])=>{const yy=y(v);
 tags.append("rect").attr("x",plot.r+1).attr("y",yy-9).attr("width",t.endsWith("%")?55:52).attr("height",18).attr("fill",c);
 tags.append("text").attr("x",plot.r+7).attr("y",yy+4.5).attr("fill","#fff").attr("font-size",12.5).attr("font-weight","bold").text(t);});
tags.append("rect").attr("x",x(crosshairSession)-36).attr("y",plot.b).attr("width",70).attr("height",21).attr("fill","#555");
tags.append("text").attr("x",x(crosshairSession)-1).attr("y",plot.b+15).attr("text-anchor","middle").attr("fill","#fff").attr("font-size",12.5).attr("font-weight","bold").text(crosshairDate);
// pins
eventPins.forEach(([s,v])=>{const g=svg.append("g").attr("transform",`translate(${x(s)},${y(v)})`);
 g.append("circle").attr("r",8.5).attr("fill","#0f97f2");
 g.append("text").attr("text-anchor","middle").attr("y",4.5).attr("fill","#fff").attr("font-size",12).attr("font-weight","bold").text("P");});
// legend
const lg=svg.append("g");
lg.append("rect").attr("x",7.5).attr("y",20.5).attr("width",13).attr("height",11).attr("rx",1.5).attr("fill","#fff").attr("stroke","#666");
lg.append("line").attr("x1",10).attr("x2",18).attr("y1",26).attr("y2",26).attr("stroke","#666");
lg.append("text").attr("x",29).attr("y",33).attr("font-size",18).attr("fill","#555").attr("textLength",309).attr("lengthAdjust","spacingAndGlyphs").text(titleText);
const tri=(px,py)=>lg.append("path").attr("d",`M${px},${py}h8l-4,4z`).attr("fill","#ccc");
const icon=(px,py,w,h,kind)=>{lg.append("rect").attr("x",px).attr("y",py).attr("width",w).attr("height",h).attr("fill","#dcdcdc");
 if(kind==="x")lg.append("text").attr("x",px+w/2).attr("y",py+h-2.5).attr("text-anchor","middle").attr("font-size",15).attr("fill","#fff").text("×");
 else lg.append("circle").attr("cx",px+w/2).attr("cy",py+h/2).attr("r",3.5).attr("fill","none").attr("stroke","#fff").attr("stroke-width",kind==="g"?2.4:1.6);};
tri(342,24);icon(362.5,19,15,14,"c");icon(382,19,14,14,"g");
const ohlcX=[[405,419],[469,482],[533,544],[594,606]];
ohlcLabels.forEach(([a,b],i)=>{lg.append("text").attr("x",ohlcX[i][0]).attr("y",32).attr("font-size",15).attr("fill","#666").text(a);
 lg.append("text").attr("x",ohlcX[i][1]).attr("y",32).attr("font-size",15).attr("fill","#7a2e20").attr("textLength",39).attr("lengthAdjust","spacingAndGlyphs").text(b);});
lg.append("text").attr("x",7).attr("y",53).attr("font-size",13.5).attr("fill","#666").attr("textLength",115).attr("lengthAdjust","spacingAndGlyphs").text("AU5YT=RR, SYDNEY");
tri(127,46);icon(146,41,15,14,"c");icon(165,41,15,14,"g");icon(184,41,15,14,"x");
lg.append("text").attr("x",207).attr("y",53).attr("font-size",13.5).attr("fill","#a0189a").text("0.51");
lg.append("text").attr("x",7).attr("y",75).attr("font-size",13.5).attr("fill","#666").attr("textLength",122).attr("lengthAdjust","spacingAndGlyphs").text("AU10YT=RR, SYDNEY");
tri(134,68);icon(153,63,15,14,"c");icon(172,63,15,14,"g");icon(191,63,15,14,"x");
lg.append("text").attr("x",215).attr("y",75).attr("font-size",13.5).attr("fill","#8a1078").text("0.74");
// logo
lg.append("text").attr("x",17).attr("y",1143).attr("font-size",22).attr("font-weight","bold").attr("fill","#111").attr("stroke","#111").attr("stroke-width",.5).attr("textLength",98).attr("lengthAdjust","spacingAndGlyphs").text("Investing");
lg.append("text").attr("x",115).attr("y",1143).attr("font-size",17).attr("fill","#444").attr("textLength",33).attr("lengthAdjust","spacingAndGlyphs").text(".com");
lg.append("path").attr("d","M83.5,1130l2,-4h2.5l-1,4z").attr("fill","#f5a623");
lg.append("text").attr("x",1).attr("y",1178).attr("font-size",10).attr("fill","#888").text("7");
</script></body></html>
